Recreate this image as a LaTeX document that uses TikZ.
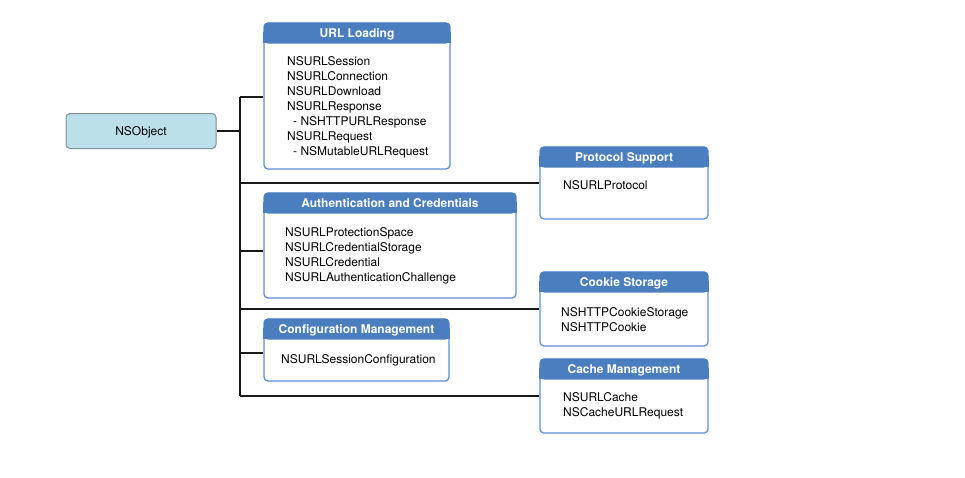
\documentclass[tikz,border=0pt]{standalone}
\usepackage{fontspec}
\setmainfont{TeX Gyre Heros}
\usetikzlibrary{positioning}
\definecolor{headblue}{HTML}{4A7EBE}
\definecolor{edgeblue}{HTML}{5E90D2}
\definecolor{objfill}{HTML}{BCE0EA}
\definecolor{objedge}{HTML}{7E9098}

\begin{document}
\begin{tikzpicture}[x=1pt, y=-1pt,
		panel/.style={draw=edgeblue, line width=1.3pt, rounded corners=4pt, fill=white, inner sep=0pt},
		head/.style={fill=headblue, rounded corners=4pt, text=white, font=\bfseries\fontsize{12}{15}\selectfont, minimum height=21pt, text height=8.6pt, text depth=0pt, inner sep=0pt, anchor=north},
		body/.style={align=left, anchor=north west, inner sep=0pt, font=\fontsize{12}{15}\selectfont},
		link/.style={line width=1.2pt, draw=black!90}]
		\useasboundingbox (0,0) rectangle (965,477);

		% root class
		\node[draw=objedge, fill=objfill, line width=1pt, rounded corners=4pt, minimum width=150pt, minimum height=35pt, text height=8.6pt, text depth=0pt, font=\fontsize{12}{15}\selectfont] (obj) at (141,131) {NSObject};

		% group boxes
		\node[panel, minimum width=186pt, minimum height=146pt] (url) at (357,96) {};
		\node[panel, minimum width=168pt, minimum height=72pt] (proto) at (624,183) {};
		\node[panel, minimum width=252pt, minimum height=105pt] (auth) at (390,245.5) {};
		\node[panel, minimum width=168pt, minimum height=74pt] (cookie) at (624,309) {};
		\node[panel, minimum width=185pt, minimum height=62pt] (config) at (356.5,350) {};
		\node[panel, minimum width=168pt, minimum height=74pt] (cache) at (624,396) {};

		% headers (square lower corners first)
		\foreach \b in {url, proto, auth, cookie, config, cache}
			\fill[headblue] ([shift={(0,10)}]\b.north west) rectangle ([shift={(0,20.5)}]\b.north east);
		\node[head, minimum width=186pt] (urlH) at (url.north) {URL Loading};
		\node[head, minimum width=168pt] (protoH) at (proto.north) {Protocol Support};
		\node[head, minimum width=252pt] (authH) at (auth.north) {Authentication and Credentials};
		\node[head, minimum width=168pt] (cookieH) at (cookie.north) {Cookie Storage};
		\node[head, minimum width=185pt] (configH) at (config.north) {Configuration Management};
		\node[head, minimum width=168pt] (cacheH) at (cache.north) {Cache Management};

		% class lists
		\node[body] (urlT) at (287,56.7) {NSURLSession\\NSURLConnection\\NSURLDownload\\NSURLResponse\\\hspace*{6pt}- NSHTTPURLResponse\\NSURLRequest\\\hspace*{6pt}- NSMutableURLRequest};
		\node[body] (protoT) at (563,180.7) {NSURLProtocol};
		\node[body] (authT) at (285,227.7) {NSURLProtectionSpace\\NSURLCredentialStorage\\NSURLCredential\\NSURLAuthenticationChallenge};
		\node[body] (cookieT) at (561,307.7) {NSHTTPCookieStorage\\NSHTTPCookie};
		\node[body] (configT) at (281,354.7) {NSURLSessionConfiguration};
		\node[body] (cacheT) at (563,392.7) {NSURLCache\\NSCacheURLRequest};

		% tree lines
		\coordinate (top) at (240,97);
		\coordinate (bot) at (240,396);
		\draw[link] (top) -- (bot);
		\draw[link] (obj.east) -- (obj.east -| top);
		\draw[link] (top) -- (url.west |- top);
		\draw[link] (top |- proto.west) -- (proto.west);
		\draw[link] (240,251) -- (auth.west |- 0,251);
		\draw[link] (top |- cookie.west) -- (cookie.west);
		\draw[link] (240,353) -- (config.west |- 0,353);
		\draw[link] (bot) -- (cache.west);
	\end{tikzpicture}
\end{document}
